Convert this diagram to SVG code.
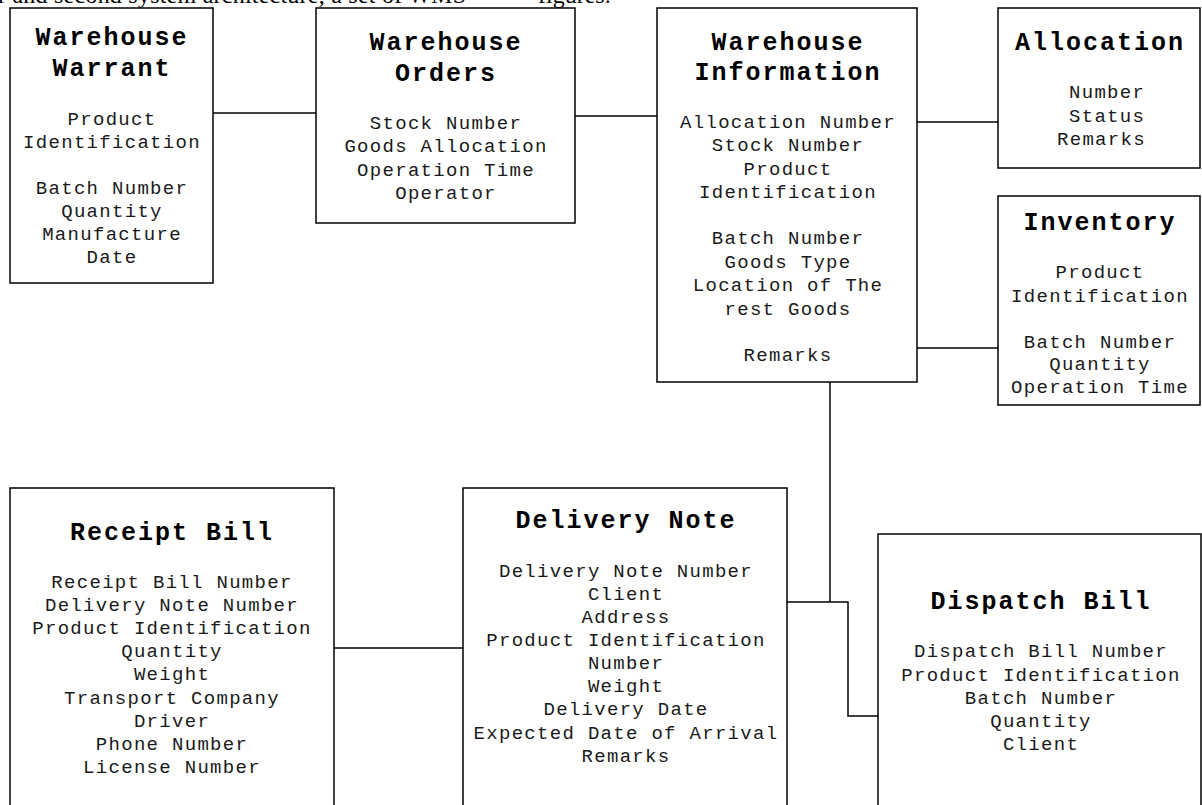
<svg xmlns="http://www.w3.org/2000/svg" width="1202" height="805" viewBox="0 0 1202 805">
<style>
.box{fill:#fff;stroke:#000;stroke-width:1.5}
.con{fill:none;stroke:#000;stroke-width:1.5}
.t{font-family:"Liberation Mono",monospace;font-weight:bold;font-size:25px;letter-spacing:2px;text-anchor:middle;fill:#000}
.b{font-family:"Liberation Mono",monospace;font-size:19px;letter-spacing:1.3px;text-anchor:middle;fill:#1a1a1a}
.top{font-family:"Liberation Serif",serif;font-size:24px;fill:#000}
</style>
<rect width="1202" height="805" fill="#fff"/>
<text class="top" x="-2" y="3" textLength="468">r and second system architecture, a set of WMS</text>
<text class="top" x="538" y="3">figures.</text>
<g id="connectors">
<path class="con" d="M213 113H316"/>
<path class="con" d="M575 116H657"/>
<path class="con" d="M917 122H998"/>
<path class="con" d="M917 348H998"/>
<path class="con" d="M830 382V602"/>
<path class="con" d="M787 602H848V716H878"/>
<path class="con" d="M334 648H463"/>
</g>
<g id="warehouse-warrant">
<rect class="box" x="10" y="8" width="203" height="275"/>
<text class="t" x="112" y="45">Warehouse</text>
<text class="t" x="112" y="76">Warrant</text>
<text class="b" x="112" y="125">Product</text>
<text class="b" x="112" y="148">Identification</text>
<text class="b" x="112" y="194">Batch Number</text>
<text class="b" x="112" y="217">Quantity</text>
<text class="b" x="112" y="240">Manufacture</text>
<text class="b" x="112" y="263">Date</text>
</g>
<g id="warehouse-orders">
<rect class="box" x="316" y="8" width="259" height="215"/>
<text class="t" x="446" y="50">Warehouse</text>
<text class="t" x="446" y="81">Orders</text>
<text class="b" x="446" y="129">Stock Number</text>
<text class="b" x="446" y="152">Goods Allocation</text>
<text class="b" x="446" y="176">Operation Time</text>
<text class="b" x="446" y="199">Operator</text>
</g>
<g id="warehouse-information">
<rect class="box" x="657" y="8" width="260" height="374"/>
<text class="t" x="788" y="50">Warehouse</text>
<text class="t" x="788" y="80">Information</text>
<text class="b" x="788" y="128">Allocation Number</text>
<text class="b" x="788" y="151">Stock Number</text>
<text class="b" x="788" y="175">Product</text>
<text class="b" x="788" y="198">Identification</text>
<text class="b" x="788" y="244">Batch Number</text>
<text class="b" x="788" y="268">Goods Type</text>
<text class="b" x="788" y="291">Location of The</text>
<text class="b" x="788" y="315">rest Goods</text>
<text class="b" x="788" y="361">Remarks</text>
</g>
<g id="allocation">
<rect class="box" x="998" y="8" width="202" height="160"/>
<text class="t" x="1100" y="50">Allocation</text>
<text class="b" x="1069" y="98" style="text-anchor:start">Number</text>
<text class="b" x="1069" y="122" style="text-anchor:start">Status</text>
<text class="b" x="1057" y="145" style="text-anchor:start">Remarks</text>
</g>
<g id="inventory">
<rect class="box" x="998" y="196" width="202" height="209"/>
<text class="t" x="1100" y="230">Inventory</text>
<text class="b" x="1100" y="278">Product</text>
<text class="b" x="1100" y="302">Identification</text>
<text class="b" x="1100" y="348">Batch Number</text>
<text class="b" x="1100" y="370">Quantity</text>
<text class="b" x="1100" y="393">Operation Time</text>
</g>
<g id="receipt-bill">
<rect class="box" x="10" y="488" width="324" height="330"/>
<text class="t" x="172" y="540">Receipt Bill</text>
<text class="b" x="172" y="588">Receipt Bill Number</text>
<text class="b" x="172" y="611">Delivery Note Number</text>
<text class="b" x="172" y="634">Product Identification</text>
<text class="b" x="172" y="657">Quantity</text>
<text class="b" x="172" y="680">Weight</text>
<text class="b" x="172" y="704">Transport Company</text>
<text class="b" x="172" y="727">Driver</text>
<text class="b" x="172" y="750">Phone Number</text>
<text class="b" x="172" y="773">License Number</text>
</g>
<g id="delivery-note">
<rect class="box" x="463" y="488" width="324" height="330"/>
<text class="t" x="626" y="528">Delivery Note</text>
<text class="b" x="626" y="577">Delivery Note Number</text>
<text class="b" x="626" y="600">Client</text>
<text class="b" x="626" y="623">Address</text>
<text class="b" x="626" y="646">Product Identification</text>
<text class="b" x="626" y="669">Number</text>
<text class="b" x="626" y="692">Weight</text>
<text class="b" x="626" y="715">Delivery Date</text>
<text class="b" x="626" y="739">Expected Date of Arrival</text>
<text class="b" x="626" y="762">Remarks</text>
</g>
<g id="dispatch-bill">
<rect class="box" x="878" y="534" width="323" height="300"/>
<text class="t" x="1041" y="609">Dispatch Bill</text>
<text class="b" x="1041" y="657">Dispatch Bill Number</text>
<text class="b" x="1041" y="681">Product Identification</text>
<text class="b" x="1041" y="704">Batch Number</text>
<text class="b" x="1041" y="727">Quantity</text>
<text class="b" x="1041" y="750">Client</text>
</g>
</svg>
